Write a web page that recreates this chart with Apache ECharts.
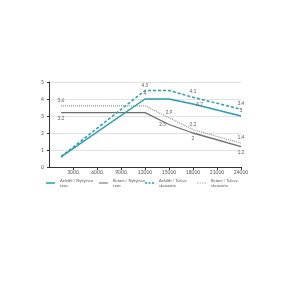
<!DOCTYPE html>
<html>
<head>
<meta charset="utf-8">
<script src="https://cdn.jsdelivr.net/npm/echarts@6/dist/echarts.min.js"></script>
<style>
html, body { margin: 0; padding: 0; background: #fff; }
#chart { width: 300px; height: 300px; }
</style>
</head>
<body>
<div id="chart"></div>
<script>
var xValues = [1500, 12000, 15000, 18000, 24000];
var asphaltNow = [0.6, 4, 4, 3.7, 3];
var concreteNow = [3.2, 3.2, 2.5, 2, 1.2];
var asphaltFuture = [0.6, 4.5, 4.5, 4.1, 3.4];
var concreteFuture = [3.6, 3.6, 2.9, 2.2, 1.4];
var seriesNames = ['Asfaltti / Nykyinen\ntaso', 'Betoni / Nykyinen\ntaso',
    'Asfaltti / Tuleva\nskenaario', 'Betoni / Tuleva\nskenaario'];

// which points carry a value label, and where
var labelPos = [
    [null, 'top', null, 'right', 'top'],
    ['bottom', null, 'left', 'bottom', 'bottom'],
    [null, 'top', null, 'top', 'top'],
    ['top', null, 'top', 'top', 'top']
];

var legendIcons = [
    'path://M0,0h12v2h-12z',
    'path://M0,0h12v1.4h-12z',
    'path://M0,0h3v2h-3z M5,0h3v2h-3z M10,0h3v2h-3z',
    'path://M0,0h1.5v1.2h-1.5z M3.5,0h1.5v1.2h-1.5z M7,0h1.5v1.2h-1.5z M10.5,0h1.5v1.2h-1.5z'
];

var chart = echarts.init(document.getElementById('chart'));

function makeData(values, pos) {
    return values.map(function(v, i) {
        let item = { value: [xValues[i], v] };
        if (pos[i]) {
            item.label = { show: true, position: pos[i] };
        }
        return item;
    });
}

function makeSeries(idx, values, color, type, width) {
    return {
        name: seriesNames[idx],
        type: 'line',
        symbol: 'circle',
        symbolSize: 0,
        showSymbol: true,
        data: makeData(values, labelPos[idx]),
        lineStyle: { color: color, type: type, width: width },
        itemStyle: { color: color },
        label: { show: false, fontSize: 5, color: '#666', distance: 3,
            fontFamily: 'Lato' },
        labelLayout: { hideOverlap: false },
        z: idx == 0 || idx == 2 ? 3 : 2
    };
}

function makeLegend(idx, left) {
    return {
        data: [{ name: seriesNames[idx], icon: legendIcons[idx] }],
        left: left,
        top: 178,
        itemWidth: 9,
        itemHeight: 2,
        itemGap: 0,
        padding: 0,
        textStyle: { fontSize: 4, color: '#555', lineHeight: 5, fontFamily: 'Lato' }
    };
}

var option = {
    animation: false,
    grid: { left: 49, right: 59, top: 82, bottom: 133 },
    legend: [makeLegend(0, 46), makeLegend(1, 99), makeLegend(2, 145), makeLegend(3, 197)],
    xAxis: {
        type: 'value',
        min: 0,
        max: 24000,
        interval: 3000,
        axisLine: { lineStyle: { color: '#333', width: 1 } },
        axisTick: { show: true, length: 3, lineStyle: { color: '#333' } },
        axisLabel: { fontSize: 5, color: '#555', margin: 3, showMinLabel: false,
            fontFamily: 'Lato', formatter: function(v) { return String(v); } },
        splitLine: { show: false }
    },
    yAxis: {
        type: 'value',
        min: 0,
        max: 5,
        interval: 1,
        axisLine: { show: true, lineStyle: { color: '#333', width: 1 } },
        axisTick: { show: true, length: 2, lineStyle: { color: '#333' } },
        axisLabel: { fontSize: 5, color: '#555', margin: 5, fontFamily: 'Lato' },
        splitLine: { lineStyle: { color: '#e2e2e2', width: 1 } }
    },
    series: [
        makeSeries(3, concreteFuture, '#999999', [1, 1], 1.2),
        makeSeries(1, concreteNow, '#6e6e6e', 'solid', 1.3),
        makeSeries(2, asphaltFuture, '#2a9cab', [3, 2], 1.5),
        makeSeries(0, asphaltNow, '#2a9cab', 'solid', 1.5)
    ]
};

chart.setOption(option);
</script>
</body>
</html>
